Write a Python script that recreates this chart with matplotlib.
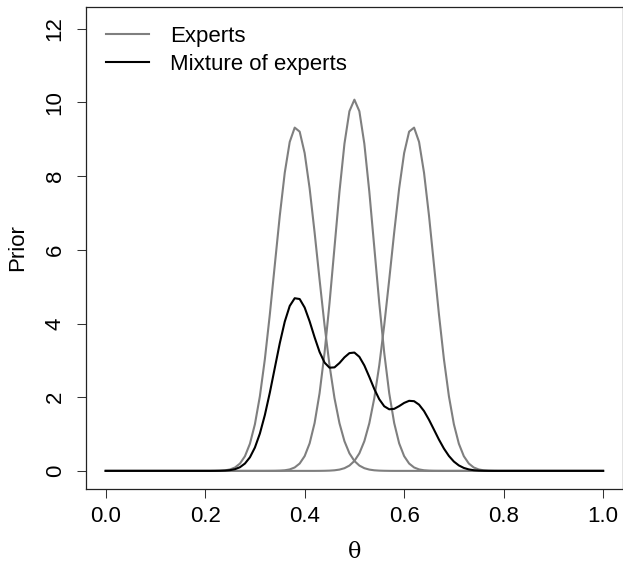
import numpy as np
import matplotlib
matplotlib.use("Agg")
import matplotlib.pyplot as plt

# theta grid 0.00 .. 1.00 step 0.01
theta = np.round(np.linspace(0.0, 1.0, 101), 2)

z10 = [0, 0, 0, 0, 0, 0, 0, 0, 0, 0]

expert1 = (z10 + z10 +
    [0.000, 0.000, 0.002, 0.005, 0.015, 0.039, 0.092, 0.200, 0.399, 0.738] +
    [1.267, 2.027, 3.031, 4.247, 5.591, 6.926, 8.093, 8.930, 9.318, 9.209] +
    [8.627, 7.669, 6.472, 5.190, 3.955, 2.865, 1.974, 1.293, 0.806, 0.477] +
    [0.269, 0.144, 0.073, 0.035, 0.016, 0.007, 0.003, 0.001, 0.000, 0.000] +
    z10 + z10 + z10 + z10 + [0])

expert2 = (z10 + z10 + z10 +
    [0.000, 0.000, 0.000, 0.001, 0.002, 0.006, 0.016, 0.040, 0.093, 0.200] +
    [0.401, 0.747, 1.299, 2.110, 3.204, 4.555, 6.068, 7.579, 8.880, 9.763] +
    [10.077, 9.763, 8.880, 7.579, 6.068, 4.555, 3.204, 2.110, 1.299, 0.747] +
    [0.401, 0.200, 0.093, 0.040, 0.016, 0.006, 0.002, 0.001, 0.000, 0.000] +
    z10 + z10 + z10 + [0])

expert3 = (z10 + z10 + z10 + z10 +
    [0.000, 0.000, 0.000, 0.001, 0.003, 0.007, 0.016, 0.035, 0.073, 0.144] +
    [0.269, 0.477, 0.806, 1.293, 1.974, 2.865, 3.955, 5.190, 6.472, 7.669] +
    [8.627, 9.209, 9.318, 8.930, 8.093, 6.926, 5.591, 4.247, 3.031, 2.027] +
    [1.267, 0.738, 0.399, 0.200, 0.092, 0.039, 0.015, 0.005, 0.002, 0.000] +
    z10 + z10 + [0])

mixture = (z10 + z10 +
    [0.000, 0.000, 0.001, 0.003, 0.008, 0.020, 0.046, 0.100, 0.200, 0.369] +
    [0.634, 1.014, 1.516, 2.124, 2.796, 3.465, 4.051, 4.477, 4.687, 4.665] +
    [4.434, 4.059, 3.626, 3.228, 2.940, 2.801, 2.810, 2.928, 3.082, 3.197] +
    [3.212, 3.096, 2.862, 2.551, 2.223, 1.944, 1.754, 1.672, 1.684, 1.758] +
    [1.845, 1.902, 1.892, 1.798, 1.624, 1.387, 1.119, 0.849, 0.606, 0.405] +
    [0.253, 0.148, 0.080, 0.040, 0.018, 0.008, 0.003, 0.001, 0.000, 0.000] +
    z10 + z10 + [0])

xticks = [0.0, 0.2, 0.4, 0.6, 0.8, 1.0]
xticklabels = ["0.0", "0.2", "0.4", "0.6", "0.8", "1.0"]
yticks = [0, 2, 4, 6, 8, 10, 12]
legend_labels = ["Experts", "Mixture of experts"]

plt.rcParams['font.family'] = ['Liberation Sans', 'DejaVu Sans']

fig = plt.figure(figsize=(6.23, 5.62), dpi=100)
ax = fig.add_axes([0.1377, 0.1304, 0.8623, 0.8566])

gray = "#7f7f7f"
l1, = ax.plot(theta, expert1, color=gray, lw=1.5, solid_joinstyle='round')
ax.plot(theta, expert2, color=gray, lw=1.5, solid_joinstyle='round')
ax.plot(theta, expert3, color=gray, lw=1.5, solid_joinstyle='round')
l2, = ax.plot(theta, mixture, color="black", lw=1.5, solid_joinstyle='round')

ax.set_xlim(-0.04, 1.04)
ax.set_ylim(-0.484, 12.584)

ax.set_xticks(xticks)
ax.set_xticklabels(xticklabels)
ax.set_yticks(yticks)
ax.set_yticklabels([str(v) for v in yticks], rotation=90, va='center')

ax.tick_params(axis='both', direction='out', length=6.5, width=0.75,
               labelsize=16, color='#333333')
ax.tick_params(axis='x', pad=6)
ax.tick_params(axis='y', pad=8)
for s in ax.spines.values():
    s.set_linewidth(0.9)
    s.set_color('#222222')

ax.set_ylabel("Prior", fontsize=16, labelpad=12)
ax.set_xlabel("θ", fontsize=16, family=['DejaVu Serif'], labelpad=10)

ax.legend([l1, l2], legend_labels, loc='upper left', bbox_to_anchor=(0.0376, 0.961),
          frameon=False, fontsize=16, handlelength=1.94, handletextpad=0.95,
          labelspacing=0.32, borderpad=0, borderaxespad=0)

fig.savefig("out.png", dpi=100)
